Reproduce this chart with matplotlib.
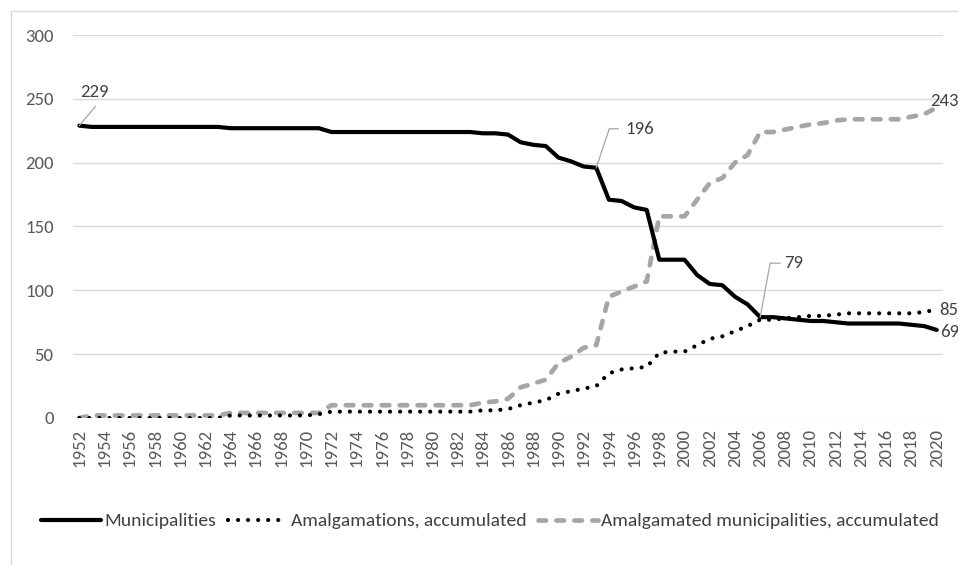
import matplotlib
matplotlib.use("Agg")
import matplotlib.pyplot as plt
from matplotlib.lines import Line2D
import numpy as np

years = list(range(1952, 2021))

municipalities = [229, 228, 228, 228, 228, 228, 228, 228, 228, 228,
                  228, 228, 227, 227, 227, 227, 227, 227, 227, 227,
                  224, 224, 224, 224, 224, 224, 224, 224, 224, 224,
                  224, 224, 223, 223, 222, 216, 214, 213, 204, 201,
                  197, 196, 171, 170, 165, 163, 124, 124, 124, 112,
                  105, 104, 95, 89, 79, 79, 78, 77, 76, 76,
                  75, 74, 74, 74, 74, 74, 73, 72, 69]

amalgamations = [0, 0, 0, 0, 0, 0, 0, 0, 0, 0,
                 0, 0, 2, 2, 2, 2, 2, 2, 2, 3,
                 5, 5, 5, 5, 5, 5, 5, 5, 5, 5,
                 5, 5, 6, 6, 7, 10, 12, 14, 19, 21,
                 23, 25, 35, 38, 39, 40, 51, 52, 52, 57,
                 62, 64, 68, 72, 77, 77, 78, 79, 80, 80,
                 81, 82, 82, 82, 82, 82, 82, 83, 85]

amalgamated = [0, 2, 2, 2, 2, 2, 2, 2, 2, 2,
               2, 2, 4, 4, 4, 4, 4, 4, 4, 4,
               10, 10, 10, 10, 10, 10, 10, 10, 10, 10,
               10, 10, 12, 13, 15, 24, 27, 30, 43, 48,
               55, 57, 95, 99, 103, 107, 158, 158, 158, 171,
               184, 188, 200, 206, 224, 224, 226, 228, 230, 231,
               233, 234, 234, 234, 234, 234, 236, 238, 243]

series_names = ["Municipalities", "Amalgamations, accumulated",
                "Amalgamated municipalities, accumulated"]
yticks = [0, 50, 100, 150, 200, 250, 300]

FONT = ["Carlito", "Lato", "DejaVu Sans"]
plt.rcParams["font.family"] = FONT
plt.rcParams["font.size"] = 13.5

W, H = 958, 565
fig = plt.figure(figsize=(W / 100, H / 100), dpi=100)
ax = fig.add_axes([73 / W, 1 - 418 / H, (943 - 73) / W, (418 - 35) / H])

ax.plot(years, municipalities, color="black", lw=3.0, solid_capstyle="round",
        solid_joinstyle="round", label=series_names[0], zorder=3)
ax.plot(years, amalgamations, color="black", lw=3.0,
        linestyle=(0, (0.01, 2.4)), dash_capstyle="round",
        label=series_names[1], zorder=2)
ax.plot(years, amalgamated, color="#A6A6A6", lw=3.4,
        linestyle=(0, (1.6, 2.2)), dash_capstyle="round",
        label=series_names[2], zorder=1)

ax.set_xlim(years[0] - 0.5, years[-1] + 0.5)
ax.set_ylim(0, 300)
ax.set_yticks(yticks)
ax.set_xticks(years[::2])
ax.set_xticklabels([str(y) for y in years[::2]], rotation=90)
ax.tick_params(axis="both", length=0, colors="#595959", labelsize=13.5)
ax.tick_params(axis="y", pad=14)
ax.tick_params(axis="x", pad=8)
ax.grid(axis="y", color="#D9D9D9", lw=1.0)
ax.set_axisbelow(True)
for s in ax.spines.values():
    s.set_visible(False)

fig.canvas.draw()
def px(x, y):
    return ax.transData.transform((x, y))

lab_col = "#404040"
lead_col = "#A6A6A6"

def leader(pts):
    xs = [p[0] for p in pts]
    ys = [p[1] for p in pts]
    fig.add_artist(Line2D(xs, ys, transform=None, color=lead_col, lw=0.9, zorder=5))

def label(x0, y0, dx, dy, txt, ha="left"):
    fig.text(x0 + dx, y0 + dy, txt, transform=None, ha=ha, va="center",
             color=lab_col, fontsize=13.5, zorder=6)

i = 0
p = px(years[i], municipalities[i])
leader([p, (p[0] + 16, p[1] + 19)])
label(p[0], p[1], 1, 34, str(municipalities[i]))

i = years.index(1993)
p = px(years[i], municipalities[i])
leader([p, (p[0] + 13, p[1] + 39), (p[0] + 22, p[1] + 39)])
label(p[0], p[1], 29, 39, str(municipalities[i]))

i = years.index(2006)
p = px(years[i], municipalities[i])
leader([p, (p[0] + 10, p[1] + 54), (p[0] + 20, p[1] + 54)])
label(p[0], p[1], 24, 54, str(municipalities[i]))

p = px(years[-1], amalgamated[-1])
label(p[0], p[1], -7, 7, str(amalgamated[-1]))
p = px(years[-1], amalgamations[-1])
label(p[0], p[1], 3, -1, str(amalgamations[-1]))
p = px(years[-1], municipalities[-1])
label(p[0], p[1], 3, -2, str(municipalities[-1]))

leg = fig.legend(loc="center", bbox_to_anchor=(490 / W, 1 - 521 / H), ncol=3,
                 frameon=False, fontsize=14, handlelength=3.1,
                 handletextpad=0.15, columnspacing=0.6, labelcolor="#404040")

fig.add_artist(Line2D([11 / W, 11 / W], [0, 1 - 11 / H], transform=fig.transFigure,
                      color="#D9D9D9", lw=1.0))
fig.add_artist(Line2D([11 / W, 1], [1 - 11 / H, 1 - 11 / H], transform=fig.transFigure,
                      color="#D9D9D9", lw=1.0))

fig.savefig("out.png", dpi=100)
